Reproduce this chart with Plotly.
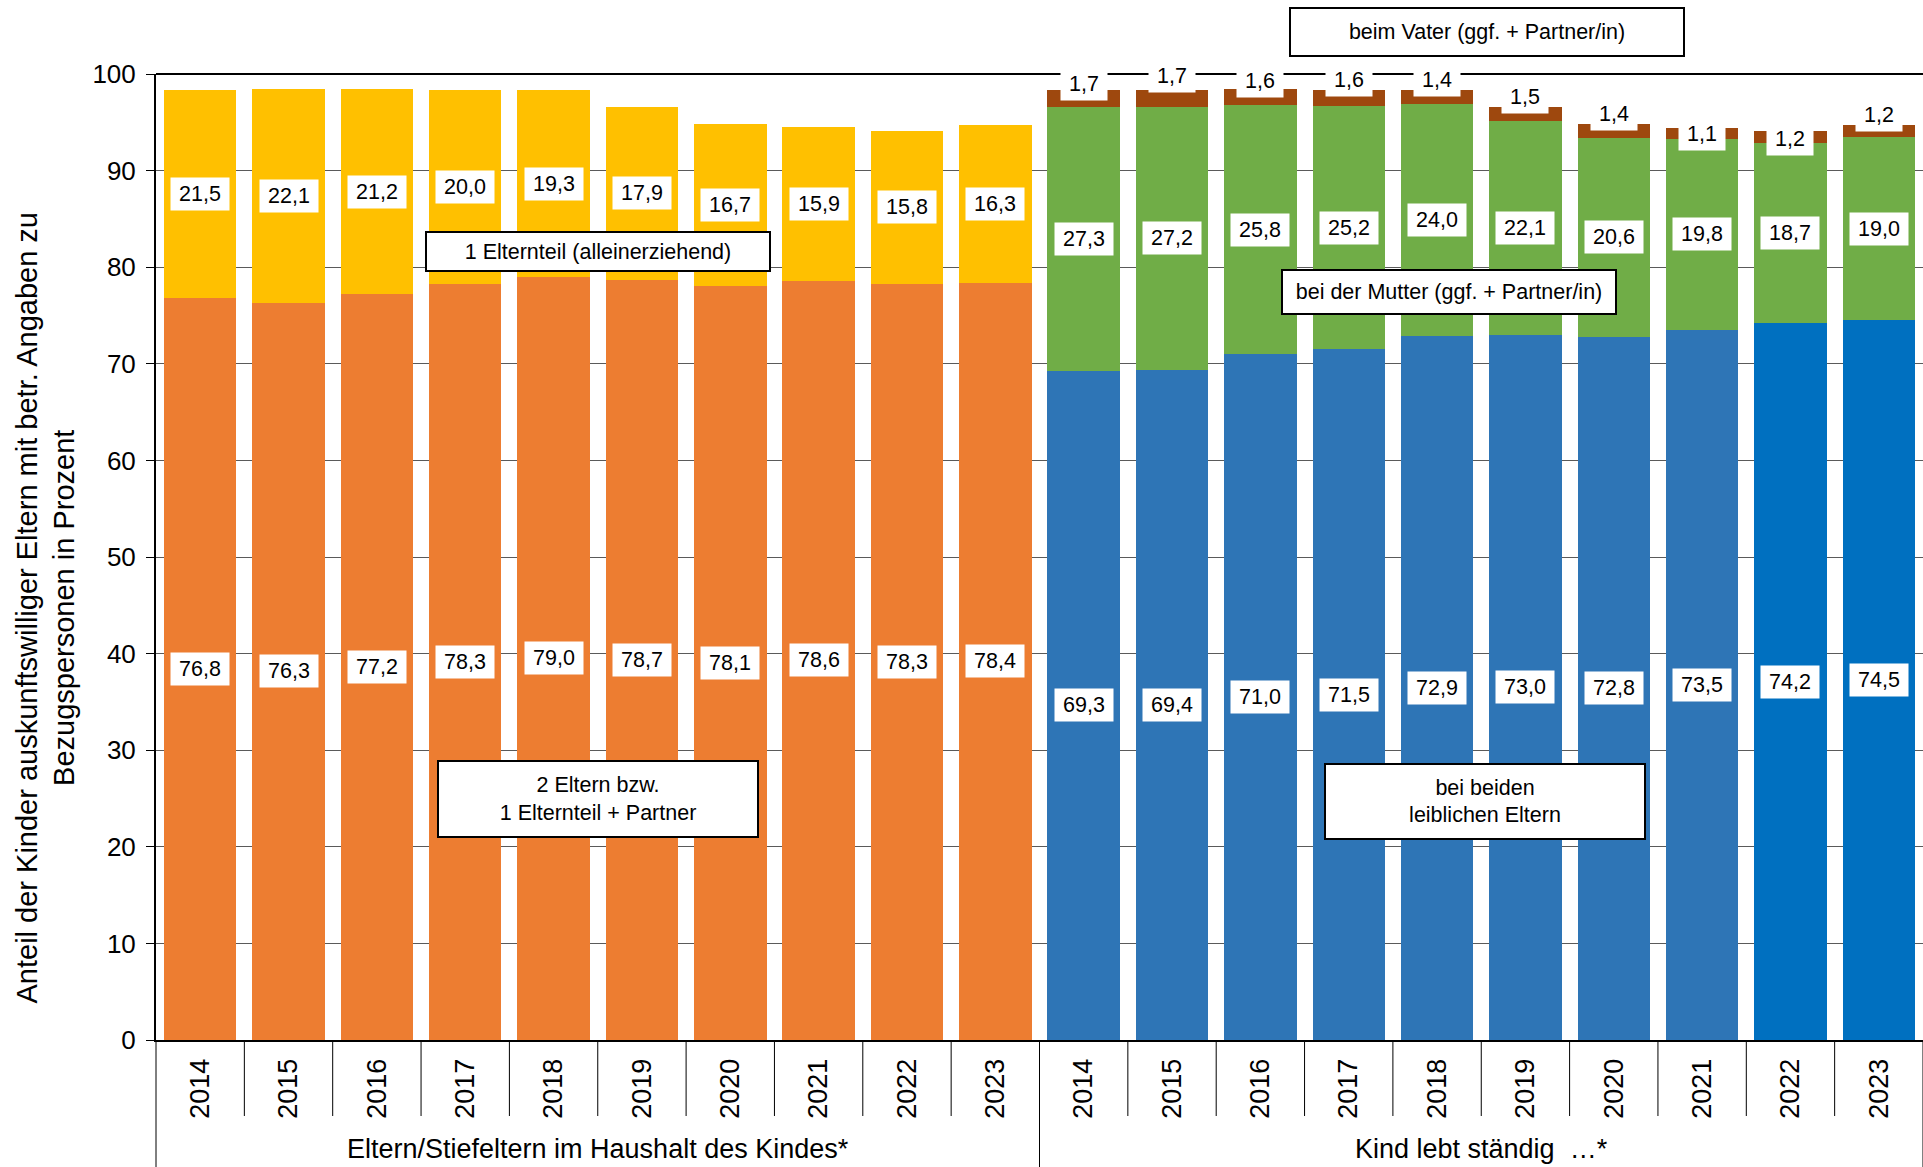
import plotly.graph_objects as go

# ---------------- data ----------------
years = ["2014", "2015", "2016", "2017", "2018", "2019", "2020", "2021", "2022", "2023"]
group_labels = ["Eltern/Stiefeltern im Haushalt des Kindes*", "Kind lebt ständig  …*"]

zwei_eltern = [76.8, 76.3, 77.2, 78.3, 79.0, 78.7, 78.1, 78.6, 78.3, 78.4]
ein_elternteil = [21.5, 22.1, 21.2, 20.0, 19.3, 17.9, 16.7, 15.9, 15.8, 16.3]

beide_leiblich = [69.3, 69.4, 71.0, 71.5, 72.9, 73.0, 72.8, 73.5, 74.2, 74.5]
bei_mutter = [27.3, 27.2, 25.8, 25.2, 24.0, 22.1, 20.6, 19.8, 18.7, 19.0]
beim_vater = [1.7, 1.7, 1.6, 1.6, 1.4, 1.5, 1.4, 1.1, 1.2, 1.2]

y_ticks = [0, 10, 20, 30, 40, 50, 60, 70, 80, 90, 100]

# ---------------- styling / layout helpers ----------------
FONT = "Liberation Sans, Arial, sans-serif"
C_ORANGE = "#ED7D31"
C_YELLOW = "#FFC000"
C_BLUE = "#2E75B6"
C_BLUE2 = "#0070C0"
C_GREEN = "#70AD47"
C_BROWN = "#9E480E"

W, H = 1923, 1167
ML, MR, MT, MB = 156, 0, 74, 127
PLOT_H = H - MT - MB

n = len(years)
x_left = list(range(n))
x_right = list(range(n, 2 * n))
blue_colors = [C_BLUE] * 8 + [C_BLUE2] * 2
vater_label_offset = [0.66, 1.5, 0.9, 1.1, 1.1, 1.05, 1.1, -0.64, -0.8, 1.1]


def fmt(v):
    return f"{v:.1f}".replace(".", ",")


def py(pix):  # pixel y (page) -> paper y
    return (H - MB - pix) / PLOT_H


fig = go.Figure()
fig.add_trace(go.Bar(x=x_left, y=zwei_eltern, marker_color=C_ORANGE, name="2 Eltern"))
fig.add_trace(go.Bar(x=x_left, y=ein_elternteil, marker_color=C_YELLOW, name="1 Elternteil"))
fig.add_trace(go.Bar(x=x_right, y=beide_leiblich, marker_color=blue_colors, name="beide"))
fig.add_trace(go.Bar(x=x_right, y=bei_mutter, marker_color=C_GREEN, name="Mutter"))
fig.add_trace(go.Bar(x=x_right, y=beim_vater, marker_color=C_BROWN, name="Vater"))
fig.update_traces(marker_line_width=0, hoverinfo="skip")

annotations = []


def value_label(x, y, v):
    t = fmt(v)
    annotations.append(dict(
        x=x, y=y, xref="x", yref="y", text=t, showarrow=False,
        font=dict(family=FONT, size=21.5, color="black"),
        bgcolor="white", borderpad=0, width=12 * len(t) + 10, height=32,
        xanchor="center", yanchor="middle"))


for i in range(n):
    value_label(x_left[i], zwei_eltern[i] / 2, zwei_eltern[i])
    value_label(x_left[i], zwei_eltern[i] + ein_elternteil[i] / 2, ein_elternteil[i])
    value_label(x_right[i], beide_leiblich[i] / 2, beide_leiblich[i])
    value_label(x_right[i], beide_leiblich[i] + bei_mutter[i] / 2, bei_mutter[i])
    top = beide_leiblich[i] + bei_mutter[i] + beim_vater[i]
    value_label(x_right[i], top + vater_label_offset[i], beim_vater[i])


def callout(text, x, y, w, h, yref="y"):
    annotations.append(dict(
        x=x, y=y, xref="x", yref=yref, text=text, showarrow=False,
        font=dict(family=FONT, size=21.5, color="black"),
        bgcolor="white", bordercolor="black", borderwidth=2, borderpad=0,
        width=w, height=h, xanchor="center", yanchor="middle", align="center"))


callout("1 Elternteil (alleinerziehend)", 4.5, 81.6, 342, 37)
callout("2 Eltern bzw.<br>1 Elternteil + Partner", 4.5, 25.0, 318, 74)
callout("bei beiden<br>leiblichen Eltern", 14.54, 24.7, 318, 73)
callout("bei der Mutter (ggf. + Partner/in)", 14.14, 77.4, 332, 42)
callout("beim Vater (ggf. + Partner/in)", 14.56, py(31.7), 392, 46, yref="paper")

# group labels
for gi, g in enumerate(group_labels):
    annotations.append(dict(
        x=(gi * n + (gi + 1) * n - 1) / 2, y=py(1149), xref="x", yref="paper",
        text=g, showarrow=False, font=dict(family=FONT, size=27, color="black"),
        xanchor="center", yanchor="middle"))

# y axis title (two lines, rotated)
annotations.append(dict(
    x=(45.5 - ML) / (W - ML - MR), y=py(608), xref="paper", yref="paper",
    text="Anteil der Kinder auskunftswilliger Eltern mit betr. Angaben zu<br>Bezugspersonen in Prozent",
    textangle=-90, showarrow=False, font=dict(family=FONT, size=29, color="black"),
    xanchor="center", yanchor="middle", align="center"))

shapes = []
# category dividers below the x axis
for i in range(2 * n + 1):
    long = i % n == 0
    shapes.append(dict(type="line", xref="paper", yref="paper",
                       x0=i / (2 * n), x1=i / (2 * n), y0=0,
                       y1=py(H) if long else py(1116),
                       line=dict(color="black", width=1)))
# top line at 100
shapes.append(dict(type="line", xref="paper", yref="paper", x0=0, x1=1, y0=1, y1=1,
                   line=dict(color="black", width=2), layer="below"))

fig.update_layout(
    width=W, height=H,
    margin=dict(l=ML, r=MR, t=MT, b=MB, pad=0),
    barmode="stack", bargap=0.18,
    plot_bgcolor="white", paper_bgcolor="white",
    showlegend=False,
    font=dict(family=FONT, color="black"),
    annotations=annotations, shapes=shapes,
)
fig.update_xaxes(
    range=[-0.5, 2 * n - 0.5],
    tickmode="array", tickvals=x_left + x_right, ticktext=years + years,
    tickangle=-90, tickfont=dict(family=FONT, size=27, color="black"),
    ticks="", showgrid=False, zeroline=False,
    showline=True, linecolor="black", linewidth=2,
    ticklabelstandoff=6,
)
fig.update_yaxes(
    range=[0, 100], tickmode="array", tickvals=y_ticks,
    ticks="outside", ticklen=8, tickwidth=1, tickcolor="black",
    tickfont=dict(family=FONT, size=26, color="black"),
    ticklabelstandoff=5,
    showgrid=True, gridcolor="#5a5a5a", gridwidth=1, zeroline=False,
    showline=True, linecolor="black", linewidth=2,
)

fig.write_html("out.html", config={"displayModeBar": False},
               post_script="document.body.style.margin='0';")
